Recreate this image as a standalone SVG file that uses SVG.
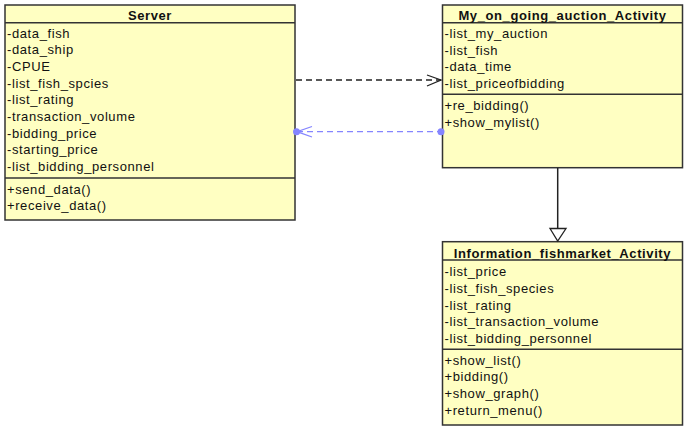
<svg xmlns="http://www.w3.org/2000/svg" width="685" height="429" viewBox="0 0 685 429">
<style>
.box{fill:#FFFFC2;stroke:#333;stroke-width:1.5}
.div{stroke:#333;stroke-width:1.5}
.t{font-family:"Liberation Sans",Arial,sans-serif;font-size:13px;letter-spacing:0.6px;fill:#111}
.h{font-family:"Liberation Sans",Arial,sans-serif;font-size:13px;letter-spacing:0.6px;font-weight:bold;fill:#111;text-anchor:middle}
</style>
<rect width="685" height="429" fill="#fff"/>
<g id="Server">
<rect class="box" x="5" y="5" width="290" height="215"/>
<line class="div" x1="5" y1="22.7" x2="295" y2="22.7"/>
<line class="div" x1="5" y1="178" x2="295" y2="178"/>
<text class="h" x="150" y="19.5">Server</text>
<text class="t" x="7" y="37.5">-data_fish</text>
<text class="t" x="7" y="54.2">-data_ship</text>
<text class="t" x="7" y="70.8">-CPUE</text>
<text class="t" x="7" y="87.5">-list_fish_spcies</text>
<text class="t" x="7" y="104.2">-list_rating</text>
<text class="t" x="7" y="120.8">-transaction_volume</text>
<text class="t" x="7" y="137.5">-bidding_price</text>
<text class="t" x="7" y="154.2">-starting_price</text>
<text class="t" x="7" y="170.8">-list_bidding_personnel</text>
<text class="t" x="7" y="193.5">+send_data()</text>
<text class="t" x="7" y="210.2">+receive_data()</text>
</g>
<g id="My_on_going_auction_Activity">
<rect class="box" x="442.5" y="5" width="240" height="162.7"/>
<line class="div" x1="442.5" y1="22.7" x2="682.5" y2="22.7"/>
<line class="div" x1="442.5" y1="94.3" x2="682.5" y2="94.3"/>
<text class="h" x="562.5" y="19.5">My_on_going_auction_Activity</text>
<text class="t" x="444.5" y="37.8">-list_my_auction</text>
<text class="t" x="444.5" y="54.5">-list_fish</text>
<text class="t" x="444.5" y="71.2">-data_time</text>
<text class="t" x="444.5" y="87.8">-list_priceofbidding</text>
<text class="t" x="444.5" y="110.2">+re_bidding()</text>
<text class="t" x="444.5" y="126.5">+show_mylist()</text>
</g>
<g id="Information_fishmarket_Activity">
<rect class="box" x="442.5" y="241.7" width="240" height="183.3"/>
<line class="div" x1="442.5" y1="260" x2="682.5" y2="260"/>
<line class="div" x1="442.5" y1="349.3" x2="682.5" y2="349.3"/>
<text class="h" x="562.5" y="257.8">Information_fishmarket_Activity</text>
<text class="t" x="444.5" y="276.2">-list_price</text>
<text class="t" x="444.5" y="292.8">-list_fish_species</text>
<text class="t" x="444.5" y="309.5">-list_rating</text>
<text class="t" x="444.5" y="326.2">-list_transaction_volume</text>
<text class="t" x="444.5" y="342.8">-list_bidding_personnel</text>
<text class="t" x="444.5" y="364.5">+show_list()</text>
<text class="t" x="444.5" y="381.2">+bidding()</text>
<text class="t" x="444.5" y="397.8">+show_graph()</text>
<text class="t" x="444.5" y="414.5">+return_menu()</text>
</g>
<g id="connectors" fill="none">
<line x1="296" y1="80" x2="441" y2="80" stroke="#222" stroke-width="1.3" stroke-dasharray="6,4"/>
<polyline points="427,75 441,80 427,86" stroke="#222" stroke-width="1.3"/>
<line x1="297" y1="131.7" x2="440" y2="131.7" stroke="#8585FF" stroke-width="1.3" stroke-dasharray="6,4"/>
<polyline points="312,126.5 297,131.7 312,137" stroke="#8585FF" stroke-width="1.3"/>
<circle cx="296.5" cy="131.7" r="3.5" fill="#8585FF"/>
<circle cx="441" cy="131.7" r="3.5" fill="#8585FF"/>
<line x1="557.7" y1="168" x2="557.7" y2="228.5" stroke="#222" stroke-width="1.5"/>
<polygon points="550,228.5 566,228.5 557.7,241" fill="#fff" stroke="#222" stroke-width="1.3"/>
</g>
</svg>
